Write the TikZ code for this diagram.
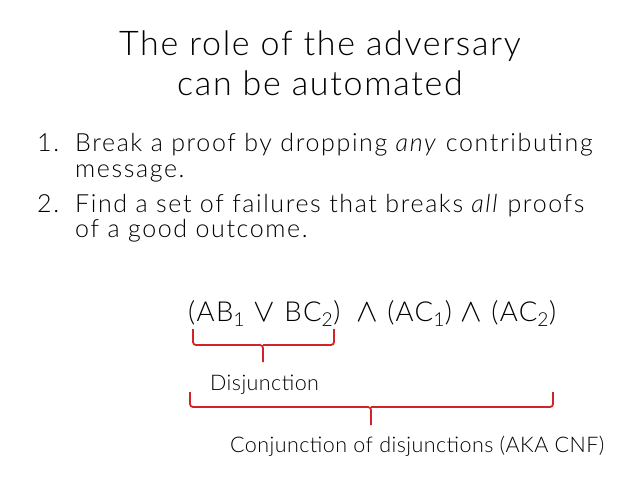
\documentclass[tikz,border=0pt]{standalone}
\usepackage{fontspec}
\setmainfont{Lato}[UprightFont=* Light, ItalicFont=* Light Italic]
\usepackage{amssymb,amsmath}
\usetikzlibrary{positioning,calc}
\definecolor{bracered}{RGB}{210,35,40}
\tikzset{>=latex}

\begin{document}
\begin{tikzpicture}[x=1pt, y=1pt, font=\rmfamily,
		titletext/.style={anchor=base, font=\fontsize{34}{38}\selectfont\addfontfeatures{LetterSpace=5}, inner sep=0pt},
		itemtext/.style={anchor=base west, font=\fontsize{25}{26}\selectfont\addfontfeatures{LetterSpace=6.5}, inner sep=0pt},
		formula/.style={anchor=base west, font=\fontsize{27.5}{30}\selectfont\addfontfeatures{LetterSpace=5}, inner sep=0pt},
		bracelabel/.style={anchor=base west, font=\fontsize{21.5}{25}\selectfont\addfontfeatures{LetterSpace=2}, inner sep=0pt},
		brace/.style={draw=bracered, line width=1.8pt, rounded corners=3pt}]
		\useasboundingbox[fill=white] (0,0) rectangle (638,-479);
		
		\node[titletext] (title1) at (320,-55) {The role of the adversary};
		\node[titletext] (title2) at (320,-95) {can be automated};
		
		\node[itemtext] (num1) at (37,-151) {1.};
		\node[itemtext] (item1a) at (75,-151) {Break a proof by dropping \textit{any} contributing};
		\node[itemtext] (item1b) at (75,-177) {message.};
		\node[itemtext] (num2) at (37,-212) {2.};
		\node[itemtext] (item2a) at (75,-212) {Find a set of failures that breaks \textit{all} proofs};
		\node[itemtext] (item2b) at (75,-237) {of a good outcome.};
		
		\node[formula] (disj) at (188,-321) {(AB\textsubscript{1} \scalebox{1.3}{$\vee$} BC\textsubscript{2})};
		\node[formula,right=16pt of disj.base east,anchor=base west] (conj) {\scalebox{1.3}{$\wedge$} (AC\textsubscript{1}) \scalebox{1.3}{$\wedge$} (AC\textsubscript{2})};
		
		\node[bracelabel] (disjlabel) at (210,-390) {Disjunction};
		\node[bracelabel] (cnflabel) at (230,-452) {Conjunction of disjunctions (AKA CNF)};
		
		% braces
		\draw[brace] (193,-329) |- (263,-345) -- (263,-362);
		\draw[brace] (334,-329) |- (263,-345);
		\draw[brace] (190,-392) |- (371,-407) -- (371,-425);
		\draw[brace] (553,-392) |- (371,-407);
	\end{tikzpicture}
\end{document}
